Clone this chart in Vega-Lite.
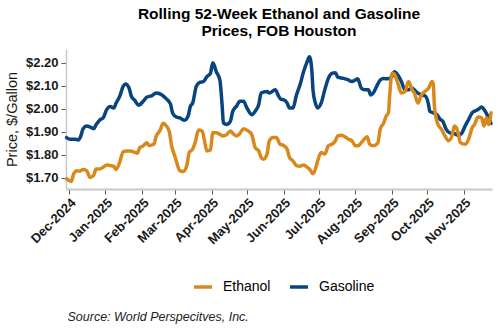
{
  "$schema": "https://vega.github.io/schema/vega-lite/v6.json",
  "width": 426,
  "height": 140,
  "autosize": {"type": "none"},
  "padding": {"left": 66, "top": 49, "right": 8, "bottom": 141},
  "background": "white",
  "config": {"view": {"stroke": null}, "font": "Liberation Sans"},
  "title": {
    "text": ["Rolling 52-Week Ethanol and Gasoline", "Prices, FOB Houston"],
    "anchor": "middle",
    "frame": "group",
    "font": "Liberation Sans",
    "fontSize": 15.5,
    "fontWeight": "bold",
    "color": "#000000",
    "lineHeight": 17,
    "offset": 10
  },
  "data": {"values": [
    {"date":"2024-11-29","series":"Gasoline","price":1.874},
    {"date":"2024-12-02","series":"Gasoline","price":1.867},
    {"date":"2024-12-06","series":"Gasoline","price":1.867},
    {"date":"2024-12-09","series":"Gasoline","price":1.864},
    {"date":"2024-12-11","series":"Gasoline","price":1.88},
    {"date":"2024-12-13","series":"Gasoline","price":1.913},
    {"date":"2024-12-16","series":"Gasoline","price":1.924},
    {"date":"2024-12-19","series":"Gasoline","price":1.92},
    {"date":"2024-12-22","series":"Gasoline","price":1.913},
    {"date":"2024-12-24","series":"Gasoline","price":1.93},
    {"date":"2024-12-27","series":"Gasoline","price":1.95},
    {"date":"2024-12-30","series":"Gasoline","price":1.96},
    {"date":"2025-01-02","series":"Gasoline","price":1.996},
    {"date":"2025-01-05","series":"Gasoline","price":2.01},
    {"date":"2025-01-08","series":"Gasoline","price":2.003},
    {"date":"2025-01-10","series":"Gasoline","price":2.025},
    {"date":"2025-01-13","series":"Gasoline","price":2.053},
    {"date":"2025-01-16","series":"Gasoline","price":2.097},
    {"date":"2025-01-18","series":"Gasoline","price":2.108},
    {"date":"2025-01-21","series":"Gasoline","price":2.09},
    {"date":"2025-01-23","series":"Gasoline","price":2.053},
    {"date":"2025-01-26","series":"Gasoline","price":2.035},
    {"date":"2025-01-29","series":"Gasoline","price":2.015},
    {"date":"2025-02-02","series":"Gasoline","price":2.032},
    {"date":"2025-02-05","series":"Gasoline","price":2.05},
    {"date":"2025-02-09","series":"Gasoline","price":2.056},
    {"date":"2025-02-13","series":"Gasoline","price":2.068},
    {"date":"2025-02-18","series":"Gasoline","price":2.06},
    {"date":"2025-02-21","series":"Gasoline","price":2.046},
    {"date":"2025-02-25","series":"Gasoline","price":2.022},
    {"date":"2025-02-27","series":"Gasoline","price":1.98},
    {"date":"2025-03-02","series":"Gasoline","price":1.964},
    {"date":"2025-03-05","series":"Gasoline","price":1.96},
    {"date":"2025-03-09","series":"Gasoline","price":1.95},
    {"date":"2025-03-12","series":"Gasoline","price":1.967},
    {"date":"2025-03-14","series":"Gasoline","price":2.01},
    {"date":"2025-03-16","series":"Gasoline","price":2.025},
    {"date":"2025-03-19","series":"Gasoline","price":2.097},
    {"date":"2025-03-22","series":"Gasoline","price":2.115},
    {"date":"2025-03-25","series":"Gasoline","price":2.118},
    {"date":"2025-03-28","series":"Gasoline","price":2.14},
    {"date":"2025-03-31","series":"Gasoline","price":2.154},
    {"date":"2025-04-02","series":"Gasoline","price":2.2},
    {"date":"2025-04-05","series":"Gasoline","price":2.161},
    {"date":"2025-04-08","series":"Gasoline","price":2.125},
    {"date":"2025-04-10","series":"Gasoline","price":2.01},
    {"date":"2025-04-11","series":"Gasoline","price":1.938},
    {"date":"2025-04-14","series":"Gasoline","price":1.931},
    {"date":"2025-04-17","series":"Gasoline","price":1.946},
    {"date":"2025-04-19","series":"Gasoline","price":1.989},
    {"date":"2025-04-22","series":"Gasoline","price":2.01},
    {"date":"2025-04-25","series":"Gasoline","price":2.032},
    {"date":"2025-04-28","series":"Gasoline","price":2.032},
    {"date":"2025-05-01","series":"Gasoline","price":2.003},
    {"date":"2025-05-05","series":"Gasoline","price":1.974},
    {"date":"2025-05-08","series":"Gasoline","price":1.989},
    {"date":"2025-05-11","series":"Gasoline","price":2.018},
    {"date":"2025-05-13","series":"Gasoline","price":2.068},
    {"date":"2025-05-18","series":"Gasoline","price":2.075},
    {"date":"2025-05-20","series":"Gasoline","price":2.068},
    {"date":"2025-05-25","series":"Gasoline","price":2.082},
    {"date":"2025-05-28","series":"Gasoline","price":2.053},
    {"date":"2025-05-30","series":"Gasoline","price":2.04},
    {"date":"2025-06-01","series":"Gasoline","price":2.039},
    {"date":"2025-06-04","series":"Gasoline","price":2.025},
    {"date":"2025-06-06","series":"Gasoline","price":2.003},
    {"date":"2025-06-09","series":"Gasoline","price":2.003},
    {"date":"2025-06-12","series":"Gasoline","price":2.06},
    {"date":"2025-06-15","series":"Gasoline","price":2.104},
    {"date":"2025-06-18","series":"Gasoline","price":2.161},
    {"date":"2025-06-21","series":"Gasoline","price":2.204},
    {"date":"2025-06-23","series":"Gasoline","price":2.226},
    {"date":"2025-06-25","series":"Gasoline","price":2.168},
    {"date":"2025-06-26","series":"Gasoline","price":2.082},
    {"date":"2025-06-28","series":"Gasoline","price":2.025},
    {"date":"2025-06-30","series":"Gasoline","price":2.003},
    {"date":"2025-07-03","series":"Gasoline","price":2.025},
    {"date":"2025-07-06","series":"Gasoline","price":2.082},
    {"date":"2025-07-09","series":"Gasoline","price":2.132},
    {"date":"2025-07-12","series":"Gasoline","price":2.154},
    {"date":"2025-07-15","series":"Gasoline","price":2.157},
    {"date":"2025-07-17","series":"Gasoline","price":2.137},
    {"date":"2025-07-22","series":"Gasoline","price":2.132},
    {"date":"2025-07-26","series":"Gasoline","price":2.125},
    {"date":"2025-07-29","series":"Gasoline","price":2.118},
    {"date":"2025-08-01","series":"Gasoline","price":2.125},
    {"date":"2025-08-03","series":"Gasoline","price":2.13},
    {"date":"2025-08-06","series":"Gasoline","price":2.089},
    {"date":"2025-08-09","series":"Gasoline","price":2.082},
    {"date":"2025-08-12","series":"Gasoline","price":2.082},
    {"date":"2025-08-14","series":"Gasoline","price":2.06},
    {"date":"2025-08-16","series":"Gasoline","price":2.068},
    {"date":"2025-08-19","series":"Gasoline","price":2.097},
    {"date":"2025-08-22","series":"Gasoline","price":2.125},
    {"date":"2025-08-25","series":"Gasoline","price":2.132},
    {"date":"2025-08-27","series":"Gasoline","price":2.13},
    {"date":"2025-08-30","series":"Gasoline","price":2.132},
    {"date":"2025-09-01","series":"Gasoline","price":2.14},
    {"date":"2025-09-03","series":"Gasoline","price":2.161},
    {"date":"2025-09-06","series":"Gasoline","price":2.147},
    {"date":"2025-09-09","series":"Gasoline","price":2.118},
    {"date":"2025-09-12","series":"Gasoline","price":2.082},
    {"date":"2025-09-15","series":"Gasoline","price":2.082},
    {"date":"2025-09-18","series":"Gasoline","price":2.089},
    {"date":"2025-09-20","series":"Gasoline","price":2.082},
    {"date":"2025-09-23","series":"Gasoline","price":2.068},
    {"date":"2025-09-26","series":"Gasoline","price":2.06},
    {"date":"2025-09-29","series":"Gasoline","price":2.056},
    {"date":"2025-10-02","series":"Gasoline","price":2.018},
    {"date":"2025-10-03","series":"Gasoline","price":1.989},
    {"date":"2025-10-06","series":"Gasoline","price":1.982},
    {"date":"2025-10-09","series":"Gasoline","price":1.974},
    {"date":"2025-10-12","series":"Gasoline","price":1.953},
    {"date":"2025-10-14","series":"Gasoline","price":1.946},
    {"date":"2025-10-17","series":"Gasoline","price":1.91},
    {"date":"2025-10-20","series":"Gasoline","price":1.895},
    {"date":"2025-10-24","series":"Gasoline","price":1.891},
    {"date":"2025-10-27","series":"Gasoline","price":1.884},
    {"date":"2025-10-30","series":"Gasoline","price":1.892},
    {"date":"2025-11-02","series":"Gasoline","price":1.924},
    {"date":"2025-11-05","series":"Gasoline","price":1.953},
    {"date":"2025-11-08","series":"Gasoline","price":1.982},
    {"date":"2025-11-10","series":"Gasoline","price":1.989},
    {"date":"2025-11-13","series":"Gasoline","price":1.996},
    {"date":"2025-11-16","series":"Gasoline","price":2.007},
    {"date":"2025-11-19","series":"Gasoline","price":1.989},
    {"date":"2025-11-22","series":"Gasoline","price":1.96},
    {"date":"2025-11-24","series":"Gasoline","price":1.936},
    {"date":"2024-11-29","series":"Ethanol","price":1.694},
    {"date":"2024-12-03","series":"Ethanol","price":1.683},
    {"date":"2024-12-05","series":"Ethanol","price":1.716},
    {"date":"2024-12-08","series":"Ethanol","price":1.73},
    {"date":"2024-12-10","series":"Ethanol","price":1.727},
    {"date":"2024-12-13","series":"Ethanol","price":1.735},
    {"date":"2024-12-16","series":"Ethanol","price":1.73},
    {"date":"2024-12-19","series":"Ethanol","price":1.7},
    {"date":"2024-12-22","series":"Ethanol","price":1.71},
    {"date":"2024-12-24","series":"Ethanol","price":1.737},
    {"date":"2024-12-27","series":"Ethanol","price":1.737},
    {"date":"2024-12-30","series":"Ethanol","price":1.745},
    {"date":"2025-01-02","series":"Ethanol","price":1.755},
    {"date":"2025-01-05","series":"Ethanol","price":1.752},
    {"date":"2025-01-08","series":"Ethanol","price":1.749},
    {"date":"2025-01-10","series":"Ethanol","price":1.735},
    {"date":"2025-01-13","series":"Ethanol","price":1.766},
    {"date":"2025-01-16","series":"Ethanol","price":1.812},
    {"date":"2025-01-19","series":"Ethanol","price":1.816},
    {"date":"2025-01-22","series":"Ethanol","price":1.816},
    {"date":"2025-01-25","series":"Ethanol","price":1.812},
    {"date":"2025-01-28","series":"Ethanol","price":1.806},
    {"date":"2025-01-30","series":"Ethanol","price":1.83},
    {"date":"2025-02-02","series":"Ethanol","price":1.838},
    {"date":"2025-02-05","series":"Ethanol","price":1.852},
    {"date":"2025-02-07","series":"Ethanol","price":1.84},
    {"date":"2025-02-11","series":"Ethanol","price":1.845},
    {"date":"2025-02-13","series":"Ethanol","price":1.88},
    {"date":"2025-02-16","series":"Ethanol","price":1.903},
    {"date":"2025-02-19","series":"Ethanol","price":1.936},
    {"date":"2025-02-21","series":"Ethanol","price":1.928},
    {"date":"2025-02-24","series":"Ethanol","price":1.903},
    {"date":"2025-02-26","series":"Ethanol","price":1.84},
    {"date":"2025-03-01","series":"Ethanol","price":1.79},
    {"date":"2025-03-02","series":"Ethanol","price":1.773},
    {"date":"2025-03-05","series":"Ethanol","price":1.73},
    {"date":"2025-03-08","series":"Ethanol","price":1.726},
    {"date":"2025-03-11","series":"Ethanol","price":1.752},
    {"date":"2025-03-13","series":"Ethanol","price":1.809},
    {"date":"2025-03-16","series":"Ethanol","price":1.824},
    {"date":"2025-03-18","series":"Ethanol","price":1.852},
    {"date":"2025-03-21","series":"Ethanol","price":1.907},
    {"date":"2025-03-24","series":"Ethanol","price":1.903},
    {"date":"2025-03-26","series":"Ethanol","price":1.86},
    {"date":"2025-03-28","series":"Ethanol","price":1.816},
    {"date":"2025-03-31","series":"Ethanol","price":1.82},
    {"date":"2025-04-02","series":"Ethanol","price":1.895},
    {"date":"2025-04-05","series":"Ethanol","price":1.895},
    {"date":"2025-04-08","series":"Ethanol","price":1.888},
    {"date":"2025-04-11","series":"Ethanol","price":1.881},
    {"date":"2025-04-14","series":"Ethanol","price":1.888},
    {"date":"2025-04-17","series":"Ethanol","price":1.903},
    {"date":"2025-04-19","series":"Ethanol","price":1.892},
    {"date":"2025-04-22","series":"Ethanol","price":1.881},
    {"date":"2025-04-25","series":"Ethanol","price":1.892},
    {"date":"2025-04-28","series":"Ethanol","price":1.913},
    {"date":"2025-05-02","series":"Ethanol","price":1.903},
    {"date":"2025-05-05","series":"Ethanol","price":1.888},
    {"date":"2025-05-08","series":"Ethanol","price":1.83},
    {"date":"2025-05-11","series":"Ethanol","price":1.816},
    {"date":"2025-05-13","series":"Ethanol","price":1.788},
    {"date":"2025-05-15","series":"Ethanol","price":1.78},
    {"date":"2025-05-18","series":"Ethanol","price":1.802},
    {"date":"2025-05-20","series":"Ethanol","price":1.86},
    {"date":"2025-05-23","series":"Ethanol","price":1.874},
    {"date":"2025-05-26","series":"Ethanol","price":1.874},
    {"date":"2025-05-29","series":"Ethanol","price":1.845},
    {"date":"2025-06-01","series":"Ethanol","price":1.84},
    {"date":"2025-06-04","series":"Ethanol","price":1.824},
    {"date":"2025-06-06","series":"Ethanol","price":1.788},
    {"date":"2025-06-09","series":"Ethanol","price":1.773},
    {"date":"2025-06-12","series":"Ethanol","price":1.752},
    {"date":"2025-06-15","series":"Ethanol","price":1.749},
    {"date":"2025-06-18","series":"Ethanol","price":1.755},
    {"date":"2025-06-21","series":"Ethanol","price":1.745},
    {"date":"2025-06-23","series":"Ethanol","price":1.737},
    {"date":"2025-06-26","series":"Ethanol","price":1.716},
    {"date":"2025-06-28","series":"Ethanol","price":1.737},
    {"date":"2025-06-30","series":"Ethanol","price":1.773},
    {"date":"2025-07-03","series":"Ethanol","price":1.809},
    {"date":"2025-07-06","series":"Ethanol","price":1.802},
    {"date":"2025-07-09","series":"Ethanol","price":1.838},
    {"date":"2025-07-12","series":"Ethanol","price":1.845},
    {"date":"2025-07-15","series":"Ethanol","price":1.86},
    {"date":"2025-07-17","series":"Ethanol","price":1.881},
    {"date":"2025-07-20","series":"Ethanol","price":1.884},
    {"date":"2025-07-23","series":"Ethanol","price":1.878},
    {"date":"2025-07-26","series":"Ethanol","price":1.867},
    {"date":"2025-07-29","series":"Ethanol","price":1.86},
    {"date":"2025-08-01","series":"Ethanol","price":1.838},
    {"date":"2025-08-03","series":"Ethanol","price":1.838},
    {"date":"2025-08-06","series":"Ethanol","price":1.852},
    {"date":"2025-08-09","series":"Ethanol","price":1.87},
    {"date":"2025-08-11","series":"Ethanol","price":1.878},
    {"date":"2025-08-13","series":"Ethanol","price":1.845},
    {"date":"2025-08-16","series":"Ethanol","price":1.838},
    {"date":"2025-08-20","series":"Ethanol","price":1.85},
    {"date":"2025-08-22","series":"Ethanol","price":1.91},
    {"date":"2025-08-25","series":"Ethanol","price":1.938},
    {"date":"2025-08-27","series":"Ethanol","price":1.967},
    {"date":"2025-08-29","series":"Ethanol","price":1.982},
    {"date":"2025-08-30","series":"Ethanol","price":2.053},
    {"date":"2025-09-01","series":"Ethanol","price":2.154},
    {"date":"2025-09-03","series":"Ethanol","price":2.15},
    {"date":"2025-09-06","series":"Ethanol","price":2.11},
    {"date":"2025-09-09","series":"Ethanol","price":2.068},
    {"date":"2025-09-12","series":"Ethanol","price":2.075},
    {"date":"2025-09-15","series":"Ethanol","price":2.118},
    {"date":"2025-09-18","series":"Ethanol","price":2.082},
    {"date":"2025-09-20","series":"Ethanol","price":2.068},
    {"date":"2025-09-23","series":"Ethanol","price":2.025},
    {"date":"2025-09-26","series":"Ethanol","price":2.06},
    {"date":"2025-09-29","series":"Ethanol","price":2.075},
    {"date":"2025-10-02","series":"Ethanol","price":2.089},
    {"date":"2025-10-05","series":"Ethanol","price":2.118},
    {"date":"2025-10-06","series":"Ethanol","price":2.11},
    {"date":"2025-10-07","series":"Ethanol","price":2.01},
    {"date":"2025-10-10","series":"Ethanol","price":1.931},
    {"date":"2025-10-13","series":"Ethanol","price":1.91},
    {"date":"2025-10-16","series":"Ethanol","price":1.881},
    {"date":"2025-10-19","series":"Ethanol","price":1.86},
    {"date":"2025-10-22","series":"Ethanol","price":1.884},
    {"date":"2025-10-24","series":"Ethanol","price":1.924},
    {"date":"2025-10-27","series":"Ethanol","price":1.898},
    {"date":"2025-10-29","series":"Ethanol","price":1.852},
    {"date":"2025-11-02","series":"Ethanol","price":1.845},
    {"date":"2025-11-05","series":"Ethanol","price":1.867},
    {"date":"2025-11-08","series":"Ethanol","price":1.917},
    {"date":"2025-11-10","series":"Ethanol","price":1.931},
    {"date":"2025-11-13","series":"Ethanol","price":1.964},
    {"date":"2025-11-16","series":"Ethanol","price":1.96},
    {"date":"2025-11-18","series":"Ethanol","price":1.924},
    {"date":"2025-11-20","series":"Ethanol","price":1.96},
    {"date":"2025-11-22","series":"Ethanol","price":1.931},
    {"date":"2025-11-24","series":"Ethanol","price":1.982}
  ]},
  "mark": {"type": "line", "strokeWidth": 3.5, "interpolate": "monotone", "strokeCap": "round", "strokeJoin": "round"},
  "encoding": {
    "x": {
      "field": "date",
      "type": "temporal",
      "scale": {
        "type": "utc",
        "domain": [
          {"year": 2024, "month": 11, "date": 28, "hours": 12, "utc": true},
          {"year": 2025, "month": 11, "date": 24, "hours": 20, "utc": true}
        ]
      },
      "axis": {
        "values": [
          {"year": 2024, "month": 12, "date": 1, "utc": true},
          {"year": 2025, "month": 1, "date": 1, "utc": true},
          {"year": 2025, "month": 2, "date": 1, "utc": true},
          {"year": 2025, "month": 3, "date": 1, "utc": true},
          {"year": 2025, "month": 4, "date": 1, "utc": true},
          {"year": 2025, "month": 5, "date": 1, "utc": true},
          {"year": 2025, "month": 6, "date": 1, "utc": true},
          {"year": 2025, "month": 7, "date": 1, "utc": true},
          {"year": 2025, "month": 8, "date": 1, "utc": true},
          {"year": 2025, "month": 9, "date": 1, "utc": true},
          {"year": 2025, "month": 10, "date": 1, "utc": true},
          {"year": 2025, "month": 11, "date": 1, "utc": true}
        ],
        "labelExpr": "utcFormat(datum.value, '%b-%Y')",
        "labelAngle": -45,
        "labelAlign": "right",
        "labelBaseline": "top",
        "labelFont": "Liberation Sans",
        "labelFontSize": 13,
        "labelFontWeight": "bold",
        "labelColor": "#1a1a1a",
        "labelPadding": 2,
        "labelOverlap": false,
        "labelFlush": false,
        "grid": false,
        "domainColor": "#c8c8c8",
        "domainWidth": 2,
        "tickColor": "#595959",
        "tickSize": 5,
        "tickWidth": 1,
        "title": "Source: World Perspecitves, Inc.",
        "titleFont": "Liberation Sans",
        "titleFontSize": 12.5,
        "titleFontStyle": "italic",
        "titleFontWeight": "normal",
        "titleColor": "#222222",
        "titleAnchor": "start",
        "titleAlign": "left",
        "titleBaseline": "middle",
        "titleX": 1,
        "titleY": 127
      }
    },
    "y": {
      "field": "price",
      "type": "quantitative",
      "scale": {"domain": [1.65, 2.26], "zero": false, "nice": false},
      "axis": {
        "values": [1.7, 1.8, 1.9, 2.0, 2.1, 2.2],
        "format": "$.2f",
        "labelFont": "Liberation Sans",
        "labelFontSize": 13,
        "labelFontWeight": "bold",
        "labelColor": "#1a1a1a",
        "labelPadding": 3,
        "grid": false,
        "domainColor": "#c8c8c8",
        "domainWidth": 1.5,
        "tickColor": "#595959",
        "tickSize": 5,
        "title": "Price, $/Gallon",
        "titleFont": "Liberation Sans",
        "titleFontSize": 14.5,
        "titleFontWeight": "normal",
        "titleColor": "#1a1a1a",
        "titlePadding": 6
      }
    },
    "color": {
      "field": "series",
      "type": "nominal",
      "scale": {"domain": ["Ethanol", "Gasoline"], "range": ["#D9891C", "#08447F"]},
      "legend": {
        "title": null,
        "orient": "none",
        "legendX": 126,
        "legendY": 227,
        "direction": "horizontal",
        "symbolType": "stroke",
        "symbolSize": 324,
        "symbolStrokeWidth": 3.5,
        "labelFont": "Liberation Sans",
        "labelFontSize": 14,
        "labelColor": "#000000",
        "labelOffset": 9,
        "columnPadding": 12
      }
    }
  }
}
